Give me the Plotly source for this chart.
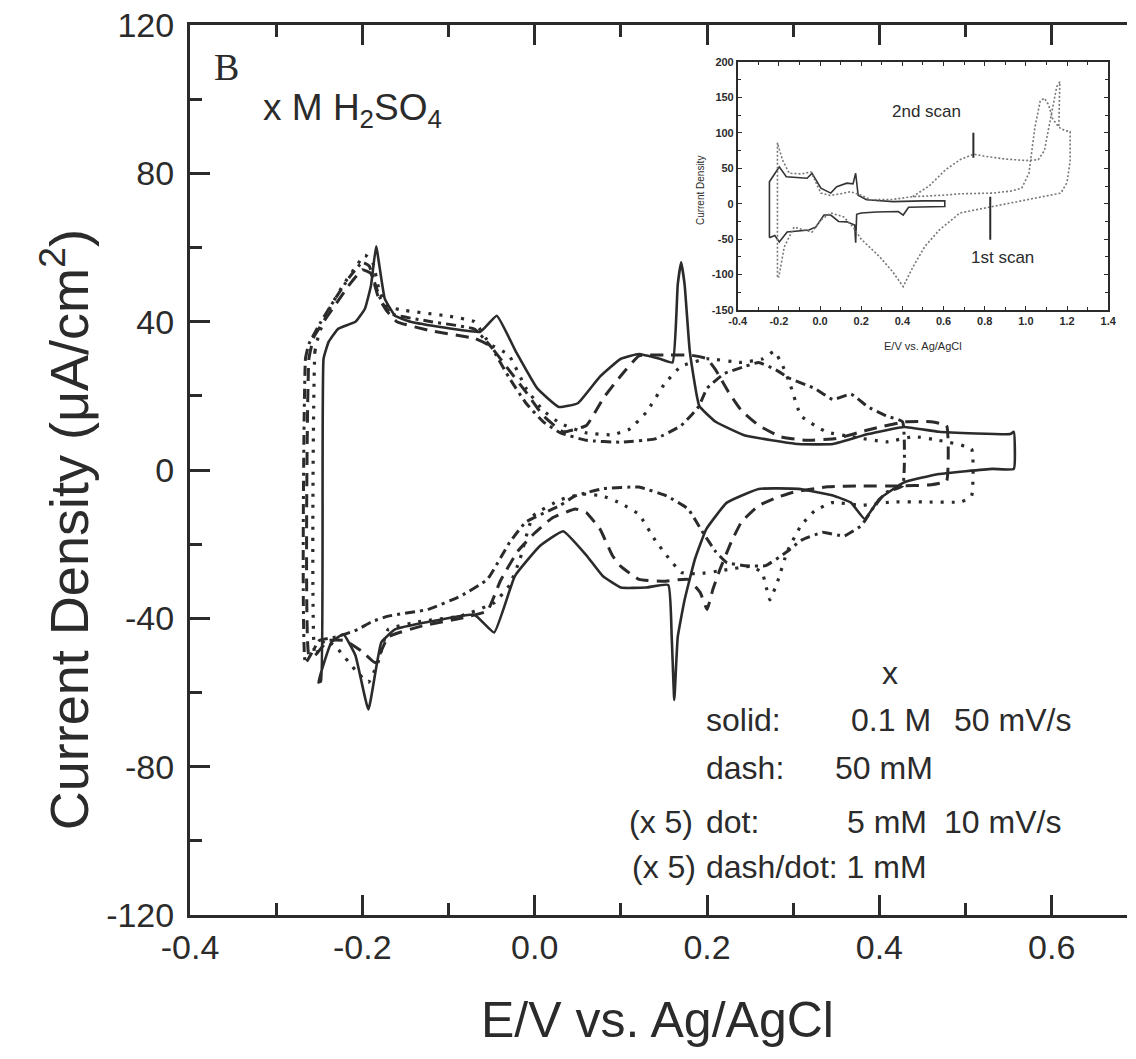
import plotly.graph_objects as go

# ---------------- data ----------------
# main panel: 0.1 M, solid
sol_x = [-0.248, -0.245, -0.239, -0.228, -0.208, -0.197, -0.190, -0.184, -0.174, -0.162, -0.144, -0.063,
         -0.044, -0.022, 0.003, 0.028, 0.050, 0.075, 0.100, 0.121, 0.145, 0.160, 0.166, 0.170, 0.174, 0.180,
         0.191, 0.210, 0.244, 0.306, 0.346, 0.387, 0.429, 0.469, 0.552, 0.556, 0.556, 0.531, 0.469, 0.429,
         0.400, 0.383, 0.367, 0.346, 0.306, 0.260, 0.223, 0.199, 0.186, 0.174, 0.166, 0.162, 0.159, 0.155,
         0.129, 0.100, 0.079, 0.060, 0.033, 0.006, -0.023, -0.047, -0.070, -0.124, -0.162, -0.178, -0.193,
         -0.208, -0.222, -0.236, -0.251, -0.248]
sol_y = [-57, 30, 34.6, 38.1, 40, 43.5, 49.7, 60.3, 46.2, 41.6, 40, 37.3,
         41.6, 32, 22, 17, 18, 25, 30, 31.3, 30, 29, 50, 56, 50, 32,
         17.3, 13, 9.3, 7, 7, 9.7, 11.6, 10.3, 9.7, 10.3, 0.3, 0.3, -1.1, -3.3,
         -7.8, -13.2, -8.8, -6.9, -5.1, -5.1, -8.8, -16, -24, -35, -45, -62, -45, -31,
         -31.7, -31.7, -28.6, -23, -16.5, -20.5, -28.6, -43.8, -39, -41, -43, -46.5, -64.6,
         -50, -44.3, -46.5, -57.3, -57]

# 50 mM, dash
dash_x = [-0.262, -0.262, -0.256, -0.245, -0.230, -0.215, -0.200, -0.190, -0.182, -0.172, -0.160, -0.120,
          -0.070, -0.052, -0.030, -0.010, 0.010, 0.033, 0.060, 0.080, 0.100, 0.121, 0.150, 0.180, 0.200,
          0.210, 0.225, 0.240, 0.260, 0.285, 0.315, 0.350, 0.390, 0.430, 0.460, 0.478, 0.478, 0.460, 0.420,
          0.380, 0.340, 0.300, 0.280, 0.260, 0.240, 0.228, 0.215, 0.207, 0.200, 0.192, 0.178, 0.150, 0.121,
          0.100, 0.090, 0.076, 0.060, 0.047, 0.020, 0.000, -0.020, -0.040, -0.055, -0.086, -0.130, -0.170,
          -0.185, -0.200, -0.220, -0.240, -0.255, -0.262]
dash_y = [-50, 30, 36, 40, 45, 50, 54, 53, 47, 43, 40, 37.5,
          35.5, 33.5, 27, 21, 14.6, 10.3, 12, 19.5, 25.4, 30.8, 31, 31, 30,
          27, 21, 16, 12, 9, 8, 8.5, 11, 13, 13, 12, -3, -4, -4.3,
          -4.3, -4.5, -6, -7.5, -9.6, -14, -19.5, -26.8, -32, -37.6, -33, -29.5, -30, -29.5,
          -26, -23, -16, -11.5, -10.5, -13, -17, -22, -30, -38, -40, -42, -45,
          -52, -49, -46, -46, -50, -50]

# 5 mM (x5), dot
dot_x = [-0.255, -0.255, -0.250, -0.237, -0.222, -0.207, -0.197, -0.188, -0.180, -0.170, -0.150, -0.100,
         -0.070, -0.052, -0.030, -0.010, 0.010, 0.030, 0.060, 0.090, 0.110, 0.130, 0.150, 0.170, 0.200,
         0.240, 0.265, 0.278, 0.288, 0.297, 0.309, 0.338, 0.367, 0.408, 0.440, 0.469, 0.507, 0.507, 0.495,
         0.450, 0.415, 0.380, 0.345, 0.325, 0.309, 0.293, 0.282, 0.273, 0.268, 0.264, 0.250, 0.220, 0.190,
         0.170, 0.153, 0.140, 0.121, 0.100, 0.079, 0.055, 0.030, -0.002, -0.017, -0.029, -0.047, -0.086,
         -0.132, -0.170, -0.182, -0.193, -0.208, -0.228, -0.243, -0.255]
dot_y = [-50, 32, 37, 44, 50, 55, 58, 56, 48, 44, 43, 41.5,
         40, 34, 31, 22, 16, 12.5, 10, 9.5, 11, 15.7, 23, 28, 30,
         29, 30, 32, 28, 22.7, 14.6, 10.3, 9, 7.6, 9, 8, 5.7, -7, -8.6,
         -8.6, -8.6, -9.5, -8.8, -11, -15, -22, -30, -35, -31, -27.6, -26, -27, -28,
         -27.6, -23, -19, -12, -9, -7, -6.5, -8, -12.4, -24, -31, -35.8, -39.4,
         -40.8, -43, -52, -57.3, -54, -48.4, -45.7, -50]

# 1 mM (x5), dash/dot
dd_x = [-0.266, -0.266, -0.262, -0.248, -0.232, -0.215, -0.200, -0.192, -0.185, -0.177, -0.165, -0.120,
        -0.070, -0.050, -0.030, -0.010, 0.010, 0.030, 0.060, 0.100, 0.140, 0.170, 0.190, 0.200, 0.220,
        0.245, 0.260, 0.280, 0.297, 0.325, 0.346, 0.367, 0.387, 0.408, 0.427, 0.427, 0.408, 0.392, 0.379,
        0.359, 0.334, 0.309, 0.293, 0.268, 0.244, 0.223, 0.210, 0.195, 0.178, 0.153, 0.121, 0.080, 0.047,
        0.029, -0.010, -0.029, -0.055, -0.086, -0.124, -0.170, -0.190, -0.205, -0.230, -0.250, -0.266]
dd_y = [-52, 30, 34, 40, 46, 52, 56, 55, 50, 45, 42, 40,
        38, 33, 25, 18, 13, 10, 8, 7.5, 8.4, 12, 17, 22, 26,
        28, 29, 27, 24.6, 22, 19, 20.5, 17, 14.6, 13, -4.3, -6, -10.5, -15,
        -17.8, -16.8, -19, -22, -25.8, -25.8, -25, -22, -16.8, -10.5, -7, -4.6, -5, -7,
        -9.6, -14, -19.5, -29.5, -34, -37.6, -39.4, -41, -43, -45, -46, -52]

# inset: solid CV
in_sol_x = [-0.246, -0.246, -0.230, -0.198, -0.164, -0.063, -0.039, 0.004, 0.052, 0.081, 0.130, 0.160,
            0.173, 0.185, 0.226, 0.355, 0.500, 0.606, 0.606, 0.514, 0.430, 0.404, 0.380, 0.274, 0.200,
            0.178, 0.173, 0.168, 0.130, 0.090, 0.052, 0.019, -0.020, -0.054, -0.160, -0.198, -0.220, -0.246]
in_sol_y = [-48, 31, 38, 52, 38, 36, 43, 22, 15, 24, 29, 28,
            43, 12, 5.7, 3, 4, 4, -4, -4.5, -5, -16, -11, -11.6, -13,
            -15, -55, -30, -25.6, -25, -16, -16, -32.7, -37, -40, -54, -45, -48]

# inset: 1st scan (dotted)
in_s1_x = [-0.207, -0.207, -0.183, -0.150, -0.090, -0.044, 0.004, 0.050, 0.100, 0.148, 0.200, 0.245,
           0.350, 0.452, 0.600, 0.680, 0.840, 0.930, 0.980, 1.015, 1.044, 1.070, 1.090, 1.110, 1.130,
           1.160, 1.190, 1.215, 1.215, 1.200, 1.170, 1.000, 0.840, 0.680, 0.580, 0.510, 0.450, 0.404,
           0.350, 0.290, 0.200, 0.163, 0.115, 0.052, 0.004, -0.039, -0.090, -0.126, -0.174, -0.200, -0.207]
in_s1_y = [-103, 86, 62, 43, 42, 45, 15, 11.7, 14, 17, 12, 5.6,
           6, 10, 12, 14, 15, 18, 22, 43, 108, 145, 149, 140, 120,
           108, 103, 102, 60, 30, 15, 5, -4, -13, -37, -60, -90, -117,
           -95, -75, -50, -34, -18.6, -13, -23, -40, -36, -33, -61, -103, -103]

# inset: 2nd scan (dotted)
in_s2_x = [0.450, 0.530, 0.610, 0.680, 0.745, 0.800, 0.900, 1.000, 1.060, 1.090, 1.120, 1.150, 1.165, 1.160]
in_s2_y = [10, 25, 48, 62, 70, 67, 63, 61, 62, 75, 120, 165, 172, 108]

x_ticks = [-0.4, -0.2, 0.0, 0.2, 0.4, 0.6]
x_tick_text = ["-0.4", "-0.2", "0.0", "0.2", "0.4", "0.6"]
y_ticks = [-120, -80, -40, 0, 40, 80, 120]
y_tick_text = ["-120", "-80", "-40", "0", "40", "80", "120"]
in_x_ticks = [-0.4, -0.2, 0.0, 0.2, 0.4, 0.6, 0.8, 1.0, 1.2, 1.4]
in_x_tick_text = ["-0.4", "-0.2", "0.0", "0.2", "0.4", "0.6", "0.8", "1.0", "1.2", "1.4"]
in_y_ticks = [-150, -100, -50, 0, 50, 100, 150, 200]
in_y_tick_text = ["-150", "-100", "-50", "0", "50", "100", "150", "200"]

legend_rows = [
    ("", "solid:", "0.1 M", "50 mV/s"),
    ("", "dash:", "50 mM", ""),
    ("(x 5)", "dot:", "5 mM", "10 mV/s"),
    ("(x 5)", "dash/dot: 1 mM", "", ""),
]

# ---------------- figure ----------------
W, H = 1136, 1059
L, R, T, B = 190, 0, 25, 144
INK = "#2b2b2b"
FONT = "Liberation Sans, Arial, sans-serif"


def px(xp):
    return (xp - L) / (W - L - R)


def py(yp):
    return (H - B - yp) / (H - T - B)


fig = go.Figure()
lw = 2.6
SM = 0.35
fig.add_trace(go.Scatter(x=sol_x, y=sol_y, mode="lines",
                         line=dict(color=INK, width=lw, shape="spline", smoothing=SM)))
fig.add_trace(go.Scatter(x=dash_x, y=dash_y, mode="lines",
                         line=dict(color=INK, width=lw + 0.4, dash="13px,8px", shape="spline", smoothing=SM)))
fig.add_trace(go.Scatter(x=dot_x, y=dot_y, mode="lines",
                         line=dict(color=INK, width=lw + 0.6, dash="3px,8px", shape="spline", smoothing=SM)))
fig.add_trace(go.Scatter(x=dd_x, y=dd_y, mode="lines",
                         line=dict(color=INK, width=lw + 0.4, dash="10px,5px,3px,5px", shape="spline",
                                   smoothing=SM)))

fig.add_trace(go.Scatter(x=in_sol_x, y=in_sol_y, mode="lines", line=dict(color="#333333", width=1.6),
                         xaxis="x2", yaxis="y2"))
fig.add_trace(go.Scatter(x=in_s1_x, y=in_s1_y, mode="lines",
                         line=dict(color="#777777", width=1.6, dash="2px,2px"), xaxis="x2", yaxis="y2"))
fig.add_trace(go.Scatter(x=in_s2_x, y=in_s2_y, mode="lines",
                         line=dict(color="#777777", width=1.6, dash="2px,2px"), xaxis="x2", yaxis="y2"))

axis_common = dict(showgrid=False, zeroline=False, showline=True, linecolor=INK, ticks="inside",
                   tickcolor=INK)

fig.update_layout(
    width=W, height=H, margin=dict(l=L, r=R, t=T, b=B, pad=0),
    paper_bgcolor="white", plot_bgcolor="white", showlegend=False,
    font=dict(family=FONT, color=INK),
    xaxis=dict(**axis_common, range=[-0.4, -0.4 + (W - L - R) / 870], linewidth=3, mirror="allticks",
               tickvals=x_ticks, ticktext=x_tick_text, ticklen=20, tickwidth=2.5,
               tickfont=dict(size=34, family=FONT, color=INK),
               minor=dict(ticks="inside", dtick=0.1, tick0=0, ticklen=12, tickwidth=2.5, tickcolor=INK)),
    yaxis=dict(**axis_common, range=[-120, 120], linewidth=3, mirror=False,
               tickvals=y_ticks, ticktext=y_tick_text, ticklen=20, tickwidth=2.5, ticklabelstandoff=6,
               tickfont=dict(size=34, family=FONT, color=INK),
               minor=dict(ticks="inside", dtick=20, tick0=0, ticklen=12, tickwidth=2.5, tickcolor=INK)),
    xaxis2=dict(**axis_common, domain=[px(743), px(1117)], anchor="y2", range=[-0.4, 1.4], linewidth=1.6,
                mirror="allticks", tickvals=in_x_ticks, ticktext=in_x_tick_text, ticklen=4, tickwidth=1.4,
                tickfont=dict(size=11, family=FONT, color=INK, weight="bold"),
                minor=dict(ticks="inside", dtick=0.1, tick0=0, ticklen=3, tickwidth=1.2, tickcolor=INK)),
    yaxis2=dict(**axis_common, domain=[py(310), py(62)], anchor="x2", range=[-150, 200], linewidth=1.6,
                mirror="allticks", tickvals=in_y_ticks, ticktext=in_y_tick_text, ticklen=4, tickwidth=1.4,
                tickfont=dict(size=11, family=FONT, color=INK, weight="bold"),
                minor=dict(ticks="inside", dtick=25, tick0=0, ticklen=3, tickwidth=1.2, tickcolor=INK)),
)

ann = []


def text(xp, yp, s, size, anchor="left", family=FONT, angle=0, yanchor="middle"):
    ann.append(dict(x=px(xp), y=py(yp), xref="paper", yref="paper", text=s, showarrow=False,
                    xanchor=anchor, yanchor=yanchor, textangle=angle,
                    font=dict(size=size, family=family, color=INK)))


LEG = 32
# axis titles
text(64, 530, "Current Density (\u03bcA/cm<sup>2</sup>)", 54, anchor="center", angle=-90)
text(662, 1020, "E/V vs. Ag/AgCl", 50, anchor="center")
# panel label and electrolyte
text(212, 67, "B", 38, family="Liberation Serif, Times New Roman, serif")
text(262, 110, "x M H<sub>2</sub>SO<sub>4</sub>", 37)
# legend block
text(897, 673, "x", LEG, anchor="center")
rows_y = [720, 768, 822, 867]
text(709, rows_y[0], legend_rows[0][1], LEG)
text(855, rows_y[0], legend_rows[0][2], LEG)
text(959, rows_y[0], legend_rows[0][3], LEG)
text(709, rows_y[1], legend_rows[1][1], LEG)
text(839, rows_y[1], legend_rows[1][2], LEG)
text(631, rows_y[2], legend_rows[2][0], LEG)
text(709, rows_y[2], legend_rows[2][1], LEG)
text(851, rows_y[2], legend_rows[2][2], LEG)
text(949, rows_y[2], legend_rows[2][3], LEG)
text(634, rows_y[3], legend_rows[3][0], LEG)
text(709, rows_y[3], legend_rows[3][1], LEG)
# inset titles
text(930, 346, "E/V vs. Ag/AgCl", 11, anchor="center")
text(706, 191, "Current Density", 10, anchor="center", angle=-90)

# inset scan labels (inset data coordinates)
ann.append(dict(x=0.515, y=130, xref="x2", yref="y2", text="2nd scan", showarrow=False,
                font=dict(size=17, family=FONT, color=INK)))
ann.append(dict(x=0.885, y=-76, xref="x2", yref="y2", text="1st scan", showarrow=False,
                font=dict(size=17, family=FONT, color=INK)))
fig.update_layout(annotations=ann)

fig.add_shape(type="line", xref="x2", yref="y2", x0=0.745, x1=0.745, y0=100, y1=65,
              line=dict(color=INK, width=2))
fig.add_shape(type="line", xref="x2", yref="y2", x0=0.827, x1=0.827, y0=10, y1=-51,
              line=dict(color=INK, width=2))

fig.write_html("out.html", config={"displayModeBar": False},
               post_script="document.body.style.margin='0px';")
